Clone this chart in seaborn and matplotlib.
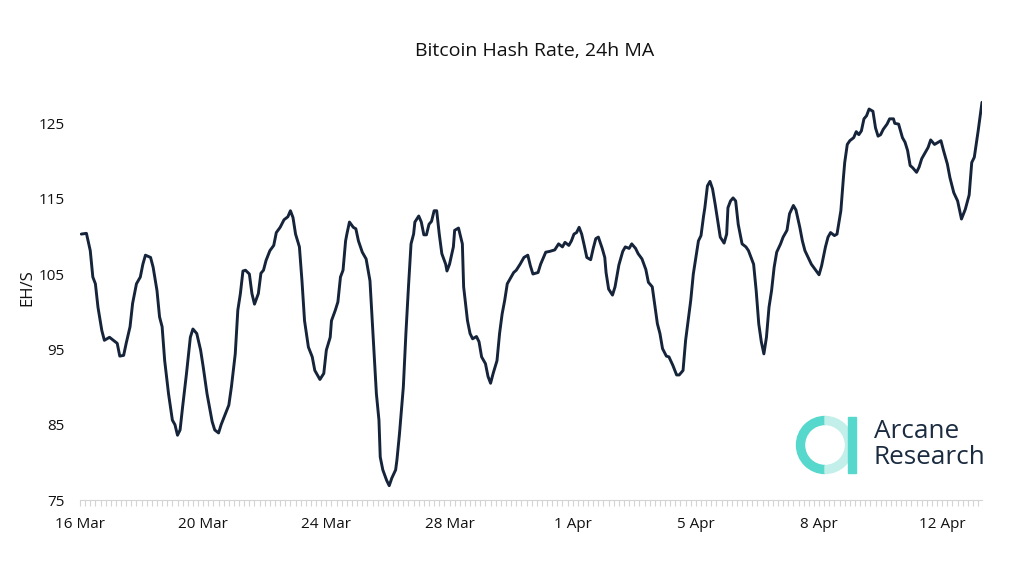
import matplotlib
matplotlib.use("Agg")
import matplotlib.pyplot as plt
from matplotlib.patches import Wedge, Rectangle
import seaborn as sns
import pandas as pd

# hours since 16 Mar 00:00 and 24h moving average hash rate (EH/s)
hours = [
    1, 5, 8, 10, 12, 14, 17, 19, 23, 26, 29, 31, 34, 36, 39, 41, 44, 47, 49, 51,
    55, 57, 60, 62, 64, 66, 69, 72, 74, 76, 78, 80, 83, 86, 88, 91, 94, 96, 99, 103,
    105, 108, 110, 113, 116, 118, 121, 123, 125, 127, 129, 132, 134, 136, 139, 141, 143, 145, 148, 151,
    153, 156, 159, 162, 164, 166, 168, 171, 173, 175, 178, 181, 183, 187, 190, 192, 195, 196, 199, 201,
    203, 205, 207, 208, 210, 213, 215, 217, 220, 223, 226, 228, 231, 233, 234, 236, 239, 241, 243, 246,
    247, 249, 252, 254, 256, 258, 260, 261, 264, 266, 268, 270, 272, 274, 276, 278, 280, 282, 285, 286,
    288, 291, 292, 295, 298, 299, 302, 304, 306, 309, 311, 313, 316, 318, 320, 322, 325, 327, 329, 331,
    333, 336, 338, 340, 343, 346, 349, 351, 353, 357, 359, 363, 366, 370, 373, 376, 378, 381, 383, 385,
    387, 389, 391, 393, 395, 398, 400, 402, 404, 407, 409, 410, 412, 415, 417, 419, 420, 423, 425, 428,
    430, 433, 435, 438, 441, 443, 446, 448, 450, 452, 454, 457, 459, 462, 465, 467, 470, 472, 474, 476,
    478, 480, 482, 484, 486, 487, 489, 491, 493, 495, 497, 499, 502, 504, 505, 507, 509, 511, 513, 516,
    519, 521, 525, 527, 529, 531, 533, 535, 537, 539, 541, 543, 546, 548, 551, 553, 556, 558, 561, 563,
    565, 568, 570, 573, 576, 578, 581, 583, 585, 588, 590, 593, 595, 596, 598, 600, 603, 605, 607, 609,
    611, 613, 615, 618, 620, 622, 624, 626, 629, 631, 634, 635, 638, 641, 643, 645, 647, 649, 652, 654,
    656, 659, 661, 663, 666, 668, 671, 673, 676, 678, 681, 684, 687, 690, 693, 695, 697, 700, 703,
]
hash_rate = [
    110.3, 110.4, 108.1, 104.6, 103.7, 100.6, 97.5, 96.2, 96.6, 96.2, 95.8, 94.1, 94.2, 95.8, 98.0, 101.1, 103.7, 104.6, 106.3, 107.5,
    107.2, 105.9, 102.8, 99.3, 98.0, 93.5, 89.1, 85.6, 85.0, 83.6, 84.3, 87.4, 91.8, 96.6, 97.7, 97.1, 94.9, 92.7, 89.1, 85.4,
    84.3, 83.9, 85.0, 86.3, 87.6, 90.0, 94.4, 100.2, 102.4, 105.4, 105.5, 105.0, 102.4, 101.0, 102.4, 105.1, 105.5, 106.8, 108.1, 108.8,
    110.5, 111.2, 112.2, 112.6, 113.4, 112.5, 110.3, 108.6, 104.1, 98.8, 95.3, 94.0, 92.2, 91.0, 91.8, 94.9, 96.6, 98.8, 100.2, 101.3,
    104.6, 105.5, 109.4, 110.3, 111.9, 111.2, 111.0, 109.4, 107.9, 107.0, 104.1, 98.0, 89.1, 85.6, 80.7, 79.0, 77.6, 76.9, 77.9, 79.0,
    80.3, 83.8, 90.0, 97.1, 103.3, 109.0, 110.3, 111.9, 112.7, 111.9, 110.2, 110.2, 111.6, 112.0, 113.4, 113.4, 110.3, 107.7, 106.3, 105.4,
    106.3, 108.6, 110.8, 111.1, 109.0, 103.3, 98.8, 97.1, 96.4, 96.7, 96.0, 94.0, 93.1, 91.4, 90.5, 91.8, 93.5, 97.1, 99.7, 101.5,
    103.7, 104.6, 105.2, 105.5, 106.3, 107.2, 107.5, 106.1, 105.0, 105.2, 106.3, 107.9, 108.0, 108.2, 109.0, 108.6, 109.2, 108.8, 109.4, 110.3,
    110.5, 111.2, 110.3, 108.8, 107.2, 106.9, 108.4, 109.7, 109.9, 108.4, 107.2, 105.2, 103.0, 102.2, 103.3, 105.2, 106.2, 108.0, 108.6, 108.4,
    109.0, 108.4, 107.7, 107.0, 105.6, 103.9, 103.3, 100.8, 98.4, 97.1, 95.1, 94.1, 94.0, 92.9, 91.6, 91.6, 92.2, 96.2, 98.8, 101.5,
    105.0, 107.2, 109.4, 110.1, 112.7, 113.8, 116.7, 117.3, 116.3, 114.3, 112.1, 109.9, 109.1, 110.3, 113.8, 114.7, 115.1, 114.7, 111.6, 109.0,
    108.6, 108.1, 106.3, 102.8, 98.4, 96.0, 94.4, 96.6, 100.6, 102.8, 105.9, 107.9, 109.0, 109.9, 110.8, 113.0, 114.1, 113.5, 111.2, 109.4,
    108.1, 107.0, 106.3, 105.6, 104.9, 106.1, 108.6, 109.9, 110.5, 110.1, 110.3, 113.4, 117.8, 119.8, 122.2, 122.7, 123.1, 123.9, 123.5, 124.0,
    125.6, 126.0, 126.9, 126.6, 124.4, 123.3, 123.5, 124.2, 124.9, 125.6, 125.6, 125.0, 124.9, 123.1, 122.5, 121.4, 119.4, 119.1, 118.5, 119.2,
    120.3, 121.2, 121.8, 122.8, 122.2, 122.4, 122.7, 121.4, 119.6, 117.8, 115.8, 114.7, 112.3, 113.6, 115.5, 119.8, 120.5, 124.0, 127.8,
]

tick_hours = [0, 96, 192, 288, 384, 480, 576, 672]
tick_labels = ["16 Mar", "20 Mar", "24 Mar", "28 Mar", "1 Apr", "5 Apr", "8 Apr", "12 Apr"]
y_ticks = [75, 85, 95, 105, 115, 125]

df = pd.DataFrame({"hour": hours, "hash_rate": hash_rate})

sns.set_theme(style="white")
plt.rcParams["font.family"] = ["Open Sans", "DejaVu Sans"]

fig = plt.figure(figsize=(10.15, 5.79), dpi=100)
ax = fig.add_axes([80 / 1015, 79 / 579, 902 / 1015, 400 / 579])

sns.lineplot(data=df, x="hour", y="hash_rate", ax=ax, color="#15243a", linewidth=2.1)

ax.set_xlim(0, 703)
ax.set_ylim(75, 128.1)

ax.set_xticks(tick_hours)
ax.set_xticklabels(tick_labels, fontsize=11, color="#111111")
ax.set_xticks(range(0, 704, 4), minor=True)
ax.tick_params(axis="x", which="both", direction="out", length=4, width=0.8,
               color="#d4d4d4", pad=8, bottom=True)
ax.set_yticks(y_ticks)
ax.set_yticklabels([str(v) for v in y_ticks], fontsize=11, color="#111111")
ax.tick_params(axis="y", length=0, pad=11)

for side in ["top", "right", "left"]:
    ax.spines[side].set_visible(False)
ax.spines["bottom"].set_color("#d4d4d4")
ax.spines["bottom"].set_linewidth(0.8)

ax.set_xlabel("")
ax.set_ylabel("EH/S", fontsize=12, color="#111111")
ax.yaxis.set_label_coords(-0.050, 0.53)

fig.text(535 / 1015, 1 - 51 / 579, "Bitcoin Hash Rate, 24h MA",
         ha="center", va="center", fontsize=14, color="#111111")

# logo
logo = fig.add_axes([790 / 1015, 99 / 579, 72 / 1015, 70 / 579])
logo.set_xlim(0, 72)
logo.set_ylim(0, 70)
logo.axis("off")
logo.add_patch(Wedge((35, 35), 28.5, 90, 270, width=8, color="#56d8cc"))
logo.add_patch(Wedge((35, 35), 28.5, -90, 90, width=8, color="#c2efea"))
logo.add_patch(Rectangle((58, 7), 8, 56.3, color="#56d8cc"))

fig.text(874 / 1015, 1 - 432 / 579, "Arcane", ha="left", va="center",
         fontsize=18.8, color="#1b2b40")
fig.text(874 / 1015, 1 - 458 / 579, "Research", ha="left", va="center",
         fontsize=18.8, color="#1b2b40")

fig.savefig("out.png", dpi=100)
